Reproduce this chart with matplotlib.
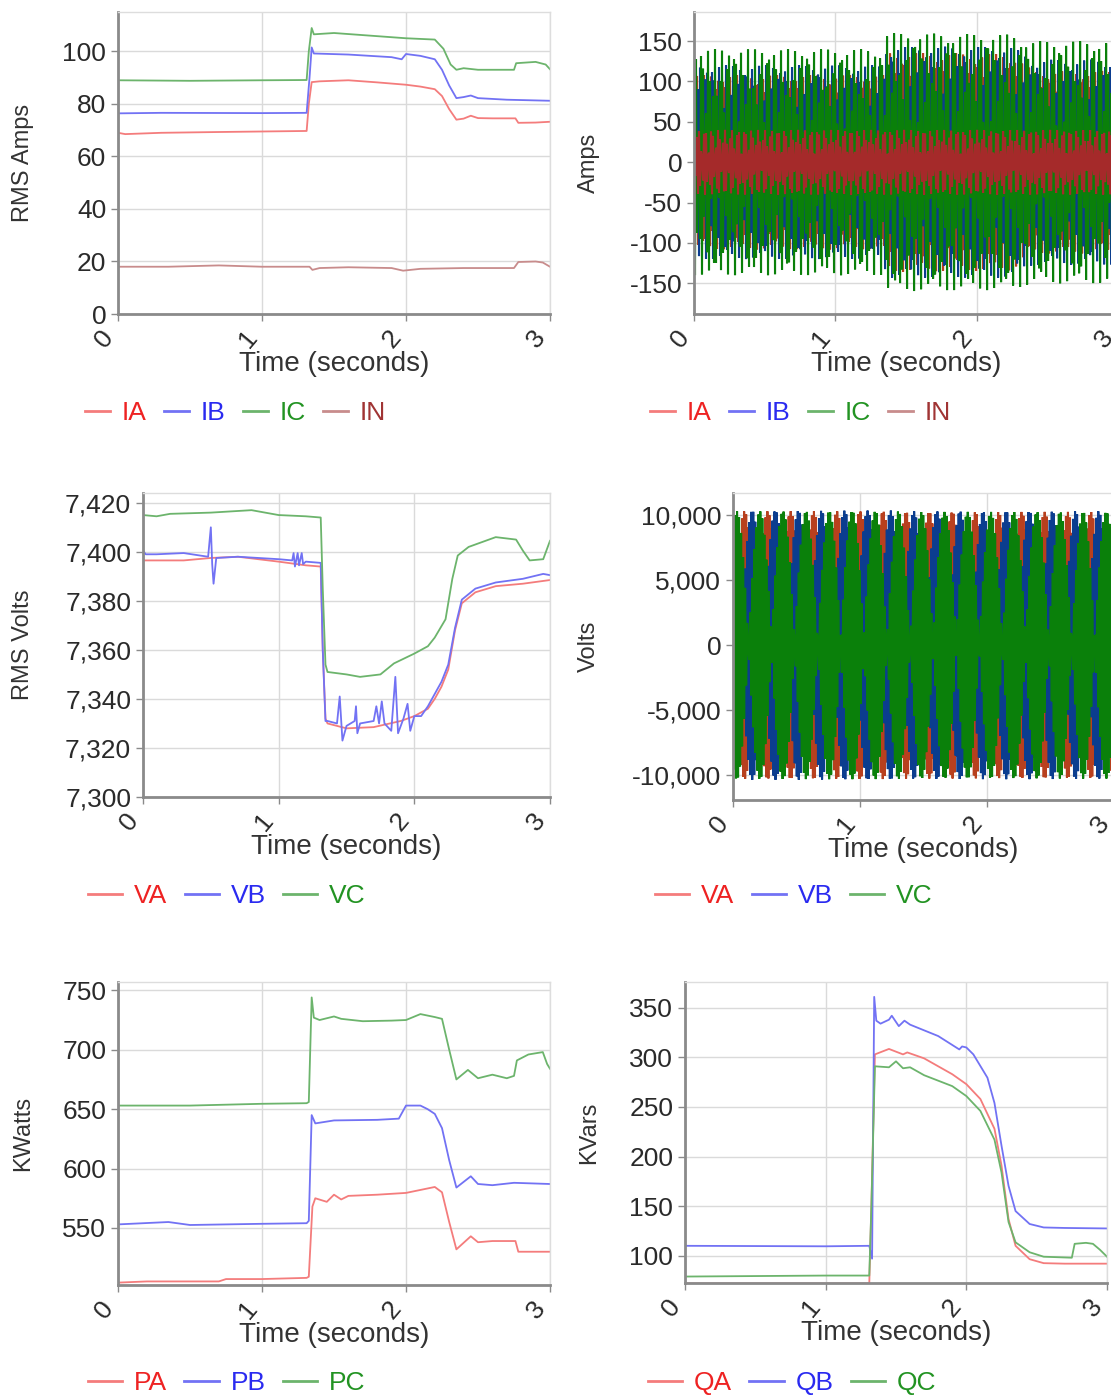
import numpy as np
import matplotlib.pyplot as plt
from matplotlib.lines import Line2D
from matplotlib.ticker import FuncFormatter

plt.rcParams['font.family'] = ['Liberation Sans', 'DejaVu Sans']

# ---------------- RMS Amps ----------------
ia_t = [0, 0.05, 0.3, 0.7, 1.0, 1.31, 1.325, 1.345, 1.4, 1.6, 1.8, 2.0, 2.1, 2.2, 2.25,
        2.3, 2.35, 2.4, 2.45, 2.5, 2.6, 2.76, 2.78, 2.9, 3.0]
ia_v = [69.0, 68.5, 69.0, 69.3, 69.5, 69.7, 80, 88.3, 88.6, 89.0, 88.2, 87.3, 86.6, 85.6, 83.0,
        78.0, 74.0, 74.4, 75.5, 74.6, 74.5, 74.5, 72.8, 72.9, 73.2]
ib_t = [0, 0.3, 1.0, 1.31, 1.33, 1.345, 1.36, 1.6, 1.9, 1.97, 2.0, 2.1, 2.2, 2.25, 2.3,
        2.35, 2.4, 2.45, 2.5, 2.7, 3.0]
ib_v = [76.4, 76.6, 76.5, 76.6, 90, 101.5, 99.2, 98.8, 97.8, 97.0, 99.0, 98.3, 97.0, 93.0, 87.0,
        82.2, 82.6, 83.2, 82.2, 81.6, 81.2]
ic_t = [0, 0.5, 1.0, 1.31, 1.325, 1.345, 1.36, 1.5, 1.8, 2.0, 2.2, 2.26, 2.31, 2.35, 2.4,
        2.5, 2.6, 2.75, 2.765, 2.9, 2.97, 3.0]
ic_v = [89.0, 88.8, 89.0, 89.1, 100, 108.9, 106.5, 107.0, 105.8, 105.0, 104.5, 101.0, 95.0, 93.0, 93.6,
        93.0, 93.0, 93.0, 95.5, 96.0, 95.0, 93.2]
in_t = [0, 0.35, 0.7, 1.0, 1.33, 1.35, 1.4, 1.6, 1.9, 1.98, 2.1, 2.4, 2.75, 2.78, 2.9, 2.95, 3.0]
in_v = [18.0, 18.0, 18.5, 18.0, 18.0, 16.8, 17.5, 17.8, 17.5, 16.5, 17.2, 17.5, 17.5, 19.8, 20.0, 19.6, 18.0]

# ---------------- Instantaneous amps (peak envelopes, 60 Hz) ----------------
amp_env_t = [0, 1.34, 1.36, 2.25, 2.4, 3.0]
ia_peak = [108, 108, 136, 134, 113, 113]
ib_peak = [120, 120, 143, 143, 127, 127]
ic_peak = [140, 140, 160, 158, 150, 150]
in_peak = [40, 40, 40, 40, 40, 40]

# ---------------- RMS Volts ----------------
va_t = [0, 0.3, 0.5, 0.7, 1.0, 1.2, 1.31, 1.325, 1.345, 1.36, 1.5, 1.7, 1.9, 2.0, 2.1, 2.15,
        2.2, 2.25, 2.3, 2.35, 2.45, 2.6, 2.8, 3.0]
va_v = [7396.5, 7396.5, 7397.5, 7398, 7396, 7394.5, 7394, 7360, 7332, 7330, 7328, 7328.5, 7331,
        7333, 7336, 7340, 7345, 7352, 7368, 7379, 7383.5, 7386, 7387, 7388.5]
vb_t = [0, 0.02, 0.1, 0.3, 0.48, 0.5, 0.51, 0.52, 0.54, 0.7,
        1.0, 1.1, 1.11, 1.12, 1.14, 1.15, 1.17, 1.18, 1.2, 1.31,
        1.325, 1.345, 1.36, 1.43, 1.45, 1.47, 1.5, 1.56, 1.57, 1.58,
        1.6, 1.7, 1.72, 1.74, 1.76, 1.78, 1.83, 1.86, 1.88, 1.92,
        1.95, 1.97, 2.0, 2.05, 2.1, 2.15, 2.2, 2.25, 2.3, 2.35,
        2.45, 2.6, 2.8, 2.95, 3.0]
vb_v = [7400.5, 7399, 7399, 7399.5, 7398, 7410, 7395, 7387, 7397.5, 7398,
        7397, 7396.5, 7399.5, 7394, 7399.5, 7394.5, 7399.5, 7395, 7396, 7395.5,
        7360, 7331, 7331, 7330, 7341, 7323, 7329, 7331, 7337, 7326,
        7330, 7331, 7337, 7330, 7339, 7330, 7327, 7349, 7326, 7332,
        7338, 7327, 7333, 7333, 7337, 7342, 7347, 7354, 7369, 7380.5,
        7385, 7387.5, 7389, 7391, 7390.5]
vc_t = [0, 0.1, 0.2, 0.5, 0.8, 1.0, 1.2, 1.31, 1.325, 1.345, 1.36, 1.5, 1.6, 1.75, 1.85,
        2.0, 2.1, 2.15, 2.23, 2.28, 2.32, 2.4, 2.5, 2.6, 2.75, 2.8, 2.85, 2.95, 3.0]
vc_v = [7415, 7414.5, 7415.5, 7416, 7417, 7415, 7414.5, 7414, 7385, 7354, 7351, 7350, 7349, 7350,
        7354.5, 7358.5, 7361.5, 7365, 7372.5, 7389, 7398.5, 7402, 7404, 7406, 7405, 7400.5, 7396.5,
        7397, 7404.5]

# ---------------- Instantaneous volts (peak envelopes, 60 Hz) ----------------
volt_env_t = [0, 1.33, 1.36, 3.0]
va_peak = [10300, 10300, 10250, 10250]
vb_peak = [10350, 10350, 10300, 10300]
vc_peak = [10300, 10300, 10250, 10250]

# ---------------- KWatts ----------------
pa_t = [0, 0.2, 0.7, 0.75, 1.0, 1.31, 1.325, 1.35, 1.37, 1.45, 1.5, 1.55, 1.6, 1.8, 2.0, 2.2,
        2.25, 2.3, 2.35, 2.45, 2.5, 2.6, 2.76, 2.78, 3.0]
pa_v = [504, 505, 505, 507, 507, 508, 509, 568, 575, 572, 578, 574, 577, 578, 579.5, 584.5,
        580, 555, 532, 543, 538, 539, 539, 530, 530]
pb_t = [0, 0.35, 0.5, 1.0, 1.31, 1.325, 1.345, 1.37, 1.5, 1.8, 1.95, 2.0, 2.1, 2.15, 2.2,
        2.25, 2.3, 2.35, 2.45, 2.5, 2.6, 2.75, 3.0]
pb_v = [553, 555, 552.5, 553.5, 554, 556, 645, 638, 640.5, 641, 642, 653, 653, 650, 646,
        634, 607, 584, 593.5, 587, 586, 588, 587]
pc_t = [0, 0.5, 1.0, 1.31, 1.325, 1.345, 1.36, 1.4, 1.5, 1.55, 1.7, 1.9, 2.0, 2.1, 2.2,
        2.25, 2.3, 2.35, 2.4, 2.43, 2.5, 2.6, 2.7, 2.75, 2.77, 2.85, 2.95, 2.98, 3.0]
pc_v = [653, 653, 654.5, 655, 656, 744, 727, 725, 728, 726, 724, 724.5, 725, 730, 727.5,
        726, 700, 675, 680, 683, 676, 679, 676, 678, 691, 696, 698, 688, 684]

# ---------------- KVars ----------------
qa_t = [0, 1.31, 1.325, 1.35, 1.45, 1.55, 1.58, 1.7, 1.9, 2.0, 2.1, 2.2, 2.25, 2.3, 2.35,
        2.45, 2.55, 2.7, 3.0]
qa_v = [72, 72, 150, 303, 308.5, 303, 305, 299, 283, 273, 258, 228, 191, 137, 110,
        96.5, 92.5, 92, 92]
qb_t = [0, 1.0, 1.31, 1.33, 1.345, 1.36, 1.39, 1.45, 1.47, 1.52, 1.56, 1.6, 1.8, 1.95, 1.97,
        2.0, 2.05, 2.15, 2.2, 2.25, 2.3, 2.35, 2.45, 2.55, 2.7, 3.0]
qb_v = [110, 109.5, 110, 97, 361, 337, 334, 338, 342, 331.5, 337, 333, 321.5, 308, 311,
        310, 303, 279.5, 254, 211, 170.5, 145, 132, 128.5, 128, 127.5]
qc_t = [0, 1.0, 1.31, 1.325, 1.35, 1.45, 1.5, 1.55, 1.6, 1.7, 1.9, 2.0, 2.1, 2.2, 2.25,
        2.3, 2.35, 2.45, 2.55, 2.75, 2.77, 2.85, 2.9, 2.95, 3.0]
qc_v = [79, 80, 80, 150, 291, 290, 296, 289, 290, 282, 271, 261, 246, 217, 184,
        134, 113.5, 103.5, 99, 98, 112, 113, 112, 106, 99]

# colours
light = {'A': '#f47c7c', 'B': '#7272f4', 'C': '#6cb46c', 'N': '#c88c8c'}
text_col = {'A': '#ee2222', 'B': '#2a2af0', 'C': '#229322', 'N': '#a03434'}
wave = {'A': '#b8401e', 'B': '#0b3d8f', 'C': '#0a800a', 'N': '#a52a2a'}

W, H = 1111, 1397
fig = plt.figure(figsize=(W / 100, H / 100), dpi=100)


def add_axes(left, right, top, bottom):
    return fig.add_axes([left / W, 1 - bottom / H, (right - left) / W, (bottom - top) / H])


def style(ax, box, ylim, yticks, ylabel, ylabel_px):
    left, right, top, bottom = box
    ax.set_xlim(0, 3)
    ax.set_ylim(*ylim)
    ax.set_xticks([0, 1, 2, 3])
    ax.set_yticks(yticks)
    ax.yaxis.set_major_formatter(FuncFormatter(lambda v, p: f"{v:,.0f}"))
    ax.grid(True, color='#dadada', lw=1)
    ax.set_axisbelow(True)
    for s in ['top', 'right']:
        ax.spines[s].set_color('#dddddd')
        ax.spines[s].set_linewidth(1)
    for s in ['left', 'bottom']:
        ax.spines[s].set_color('#8a8a8a')
        ax.spines[s].set_linewidth(2)
    ax.tick_params(colors='#8a8a8a', labelcolor='#2a2a2a', labelsize=19, length=5, width=1)
    for lab in ax.get_xticklabels():
        lab.set_rotation(50)
        lab.set_ha('right')
    ax.set_xlabel('Time (seconds)', fontsize=20, color='#333333', labelpad=-1)
    ax.set_ylabel(ylabel, fontsize=17, color='#333333')
    ax.yaxis.set_label_coords((ylabel_px - left) / (right - left), 0.5)


def legend(ax, box, keys, names, x_px, y_px, hl):
    left, right, top, bottom = box
    handles = [Line2D([], [], color=light[k], lw=2) for k in keys]
    leg = ax.legend(handles, names, loc='center left', ncol=len(names), frameon=False,
                    bbox_to_anchor=((x_px - left) / (right - left), (bottom - y_px) / (bottom - top)),
                    fontsize=19, handlelength=hl, handletextpad=0.45, columnspacing=0.65,
                    borderpad=0, borderaxespad=0)
    for txt, k in zip(leg.get_texts(), keys):
        txt.set_color(text_col[k])


def waveform(ax, env_t, peak, phase_deg, fs, color):
    # one sample per pixel column, as the original trace was drawn
    ts = np.arange(0, 3.0 + 1e-9, 1 / fs)
    env = np.interp(ts, env_t, peak)
    ax.plot(ts, env * np.sin(2 * np.pi * 60 * ts + np.radians(phase_deg)),
            color=color, lw=1.5, solid_joinstyle='miter')


# Panel 1: RMS Amps
b1 = (118, 550, 12, 314)
ax1 = add_axes(*b1)
ax1.plot(ia_t, ia_v, color=light['A'], lw=1.3)
ax1.plot(ib_t, ib_v, color=light['B'], lw=1.3)
ax1.plot(ic_t, ic_v, color=light['C'], lw=1.3)
ax1.plot(in_t, in_v, color=light['N'], lw=1.3)
style(ax1, b1, (0, 115), range(0, 101, 20), 'RMS Amps', 34)
legend(ax1, b1, 'ABCN', ['IA', 'IB', 'IC', 'IN'], 85, 413, 0.95)

# Panel 2: instantaneous Amps
b2 = (694, 1118, 12, 314)
ax2 = add_axes(*b2)
waveform(ax2, amp_env_t, ia_peak, 0, 141.3, wave['A'])
waveform(ax2, amp_env_t, ib_peak, -120, 141.3, wave['B'])
waveform(ax2, amp_env_t, ic_peak, 120, 141.3, wave['C'])
waveform(ax2, amp_env_t, in_peak, 30, 141.3, wave['N'])
style(ax2, b2, (-188, 186), range(-150, 151, 50), 'Amps', 600)
legend(ax2, b2, 'ABCN', ['IA', 'IB', 'IC', 'IN'], 650, 413, 0.95)

# Panel 3: RMS Volts
b3 = (143, 550, 493, 797)
ax3 = add_axes(*b3)
ax3.plot(va_t, va_v, color=light['A'], lw=1.3)
ax3.plot(vb_t, vb_v, color=light['B'], lw=1.3)
ax3.plot(vc_t, vc_v, color=light['C'], lw=1.3)
style(ax3, b3, (7300, 7424), range(7300, 7421, 20), 'RMS Volts', 34)
legend(ax3, b3, 'ABC', ['VA', 'VB', 'VC'], 88, 896, 1.3)

# Panel 4: instantaneous Volts
b4 = (733, 1114, 493, 800)
ax4 = add_axes(*b4)
waveform(ax4, volt_env_t, va_peak, 0, 125.5, wave['A'])
waveform(ax4, volt_env_t, vb_peak, -120, 125.5, wave['B'])
waveform(ax4, volt_env_t, vc_peak, 120, 125.5, wave['C'])
style(ax4, b4, (-11900, 11700), range(-10000, 10001, 5000), 'Volts', 600)
legend(ax4, b4, 'ABC', ['VA', 'VB', 'VC'], 655, 896, 1.3)

# Panel 5: KWatts
b5 = (118, 550, 982, 1285)
ax5 = add_axes(*b5)
ax5.plot(pa_t, pa_v, color=light['A'], lw=1.3)
ax5.plot(pb_t, pb_v, color=light['B'], lw=1.3)
ax5.plot(pc_t, pc_v, color=light['C'], lw=1.3)
style(ax5, b5, (502, 757), range(550, 751, 50), 'KWatts', 34)
legend(ax5, b5, 'ABC', ['PA', 'PB', 'PC'], 88, 1383, 1.3)

# Panel 6: KVars
b6 = (685, 1107, 982, 1283)
ax6 = add_axes(*b6)
ax6.plot(qa_t, qa_v, color=light['A'], lw=1.3)
ax6.plot(qb_t, qb_v, color=light['B'], lw=1.3)
ax6.plot(qc_t, qc_v, color=light['C'], lw=1.3)
style(ax6, b6, (72.5, 376), range(100, 351, 50), 'KVars', 600)
legend(ax6, b6, 'ABC', ['QA', 'QB', 'QC'], 648, 1383, 1.3)

fig.savefig('out.png', dpi=100)
